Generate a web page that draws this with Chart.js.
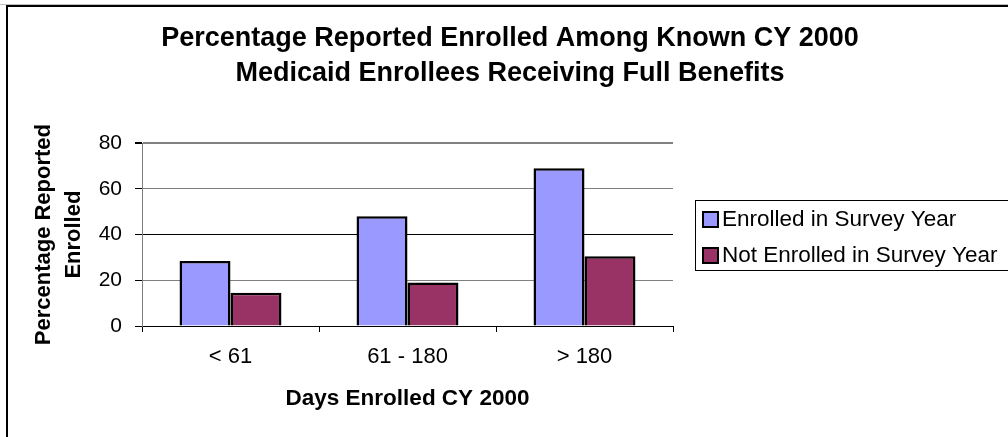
<!DOCTYPE html>
<html>
<head>
<meta charset="utf-8">
<script src="https://cdn.jsdelivr.net/npm/chart.js@4/dist/chart.umd.min.js"></script>
<style>
  html, body { margin: 0; padding: 0; background: #fff; }
  #wrap { position: relative; width: 1008px; height: 437px; }
</style>
</head>
<body>
<div id="wrap"><canvas id="chart"></canvas></div>
<script>
// --- data ---
const categories = ['< 61', '61 - 180', '> 180'];
const enrolled = [28.5, 48, 69];
const notEnrolled = [14.5, 19, 30.5];
const seriesNames = ['Enrolled in Survey Year', 'Not Enrolled in Survey Year'];
const yTicks = [0, 20, 40, 60, 80];
const chartTitle = ['Percentage Reported Enrolled Among Known CY 2000', 'Medicaid Enrollees Receiving Full Benefits'];
const yTitle = ['Percentage Reported', 'Enrolled'];
const xTitle = 'Days Enrolled CY 2000';

const FONT = '"Liberation Sans", Arial, sans-serif';
Chart.defaults.color = '#000';
Chart.defaults.font.family = FONT;

// outer frame of the chart object (cut off right and bottom)
const frame = {
    id: 'frame',
    beforeDraw(chart) {
        const ctx = chart.ctx;
        ctx.save();
        ctx.fillStyle = '#fff';
        ctx.fillRect(0, 0, chart.width, chart.height);
        ctx.fillStyle = '#c0c0c0';
        ctx.fillRect(0, 4, chart.width, 1);
        ctx.fillStyle = '#000';
        ctx.fillRect(6, 5, chart.width, 2);
        ctx.fillRect(6, 5, 2, chart.height);
        ctx.restore();
    }
};

// legend drawn as a boxed list on the right
const legendBox = {
    id: 'legendBox',
    afterDraw(chart) {
        const ctx = chart.ctx;
        ctx.save();
        ctx.strokeStyle = '#000';
        ctx.lineWidth = 1;
        ctx.strokeRect(695.5, 200.5, 340, 70);
        ctx.font = '22.5px ' + FONT;
        ctx.textBaseline = 'middle';
        chart.data.datasets.forEach((ds, i) => {
            const y = 219 + i * 36;
            ctx.fillStyle = ds.backgroundColor;
            ctx.fillRect(703, y - 7, 15, 15);
            ctx.lineWidth = 2;
            ctx.strokeRect(703, y - 7, 15, 15);
            ctx.fillStyle = '#000';
            ctx.fillText(ds.label, 722, y + 1);
        });
        ctx.restore();
    }
};

new Chart(document.getElementById('chart'), {
    type: 'bar',
    data: {
        labels: categories,
        datasets: [{
            label: seriesNames[0],
            data: enrolled,
            backgroundColor: '#9999ff',
            borderColor: '#000',
            borderWidth: 2.5,
            barPercentage: 1,
            categoryPercentage: 0.576
        }, {
            label: seriesNames[1],
            data: notEnrolled,
            backgroundColor: '#993366',
            borderColor: '#000',
            borderWidth: 2.5,
            barPercentage: 1,
            categoryPercentage: 0.576
        }]
    },
    options: {
        responsive: true,
        maintainAspectRatio: false,
        animation: false,
        layout: { padding: { left: 12, right: 0, top: 0, bottom: 0 } },
        plugins: {
            legend: { display: false },
            tooltip: { enabled: false },
            title: {
                display: true,
                text: chartTitle,
                font: { size: 27, weight: 'bold', lineHeight: 1.3 },
                padding: { top: 21, bottom: 52 }
            }
        },
        scales: {
            x: {
                grid: {
                    offset: true,
                    color: c => c.index === categories.length ? '#808080' : 'rgba(0,0,0,0)',
                    lineWidth: c => c.index === categories.length ? 2 : 1,
                    tickColor: '#000',
                    tickLength: 6
                },
                border: { color: '#000', width: 1 },
                ticks: { font: { size: 22 }, padding: 12 },
                title: {
                    display: true,
                    text: xTitle,
                    font: { size: 22.5, weight: 'bold', lineHeight: 1.2 },
                    padding: { top: 0, bottom: 25 }
                },
                afterFit: s => { s.height = 111; }
            },
            y: {
                min: 0,
                max: 80,
                afterBuildTicks: s => { s.ticks = yTicks.map(v => ({ value: v })); },
                grid: {
                    color: c => c.tick && c.tick.value === 40 ? '#000' : '#808080',
                    lineWidth: c => c.tick && c.tick.value === 80 ? 2 : 1,
                    tickColor: '#000',
                    tickLength: 7
                },
                border: { color: '#808080', width: 1 },
                ticks: { font: { size: 21 }, padding: 13 },
                title: {
                    display: true,
                    text: yTitle,
                    font: { size: 22, weight: 'bold', lineHeight: 1.35 },
                    padding: { top: 17, bottom: 0 }
                },
                afterFit: s => { s.width = 130; }
            },
            // empty right-hand box that leaves room for the legend
            pad: {
                type: 'linear',
                position: 'right',
                grid: { display: false },
                border: { display: false },
                ticks: { display: false },
                afterFit: s => { s.width = 335; }
            }
        }
    },
    plugins: [frame, legendBox]
});
</script>
</body>
</html>
